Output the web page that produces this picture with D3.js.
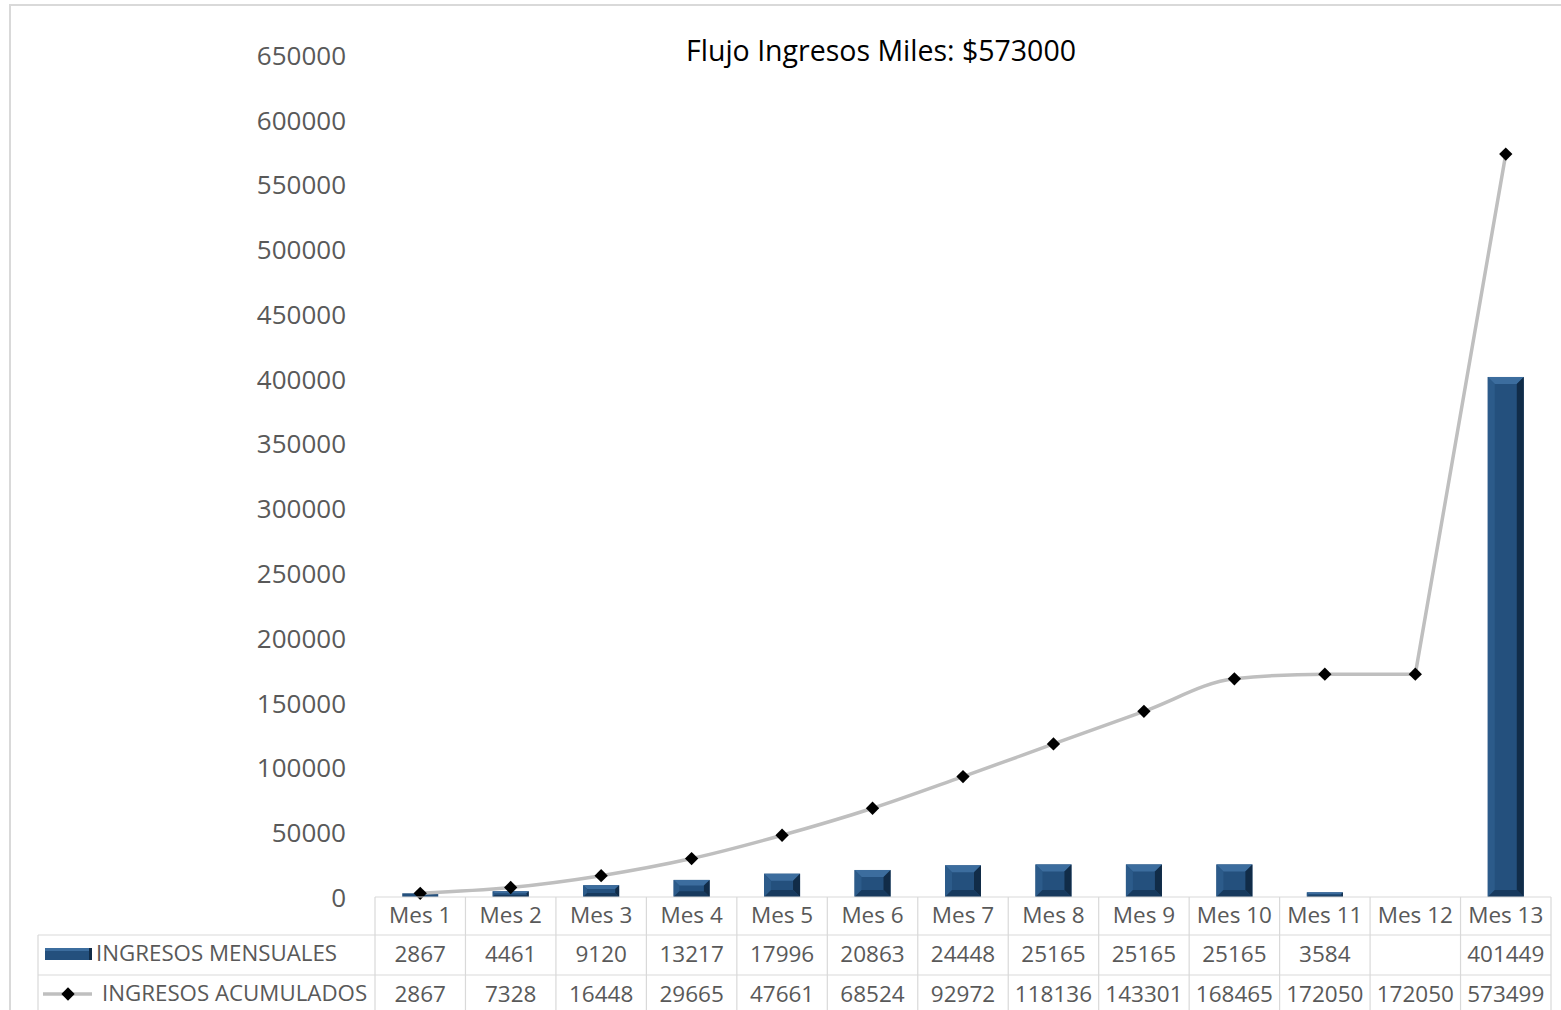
<!DOCTYPE html>
<html>
<head>
<meta charset="utf-8">
<script src="https://cdn.jsdelivr.net/npm/d3@7"></script>
<style>
  html, body { margin: 0; padding: 0; background: #fff; }
  svg { display: block; font-family: "Open Sans", sans-serif; }
</style>
</head>
<body>
<div id="chart"></div>
<script>
// datos del grafico
var meses = ["Mes 1", "Mes 2", "Mes 3", "Mes 4", "Mes 5", "Mes 6", "Mes 7",
             "Mes 8", "Mes 9", "Mes 10", "Mes 11", "Mes 12", "Mes 13"];
var mensuales = [2867, 4461, 9120, 13217, 17996, 20863, 24448, 25165, 25165, 25165, 3584, null, 401449];
var acumulados = [2867, 7328, 16448, 29665, 47661, 68524, 92972, 118136, 143301, 168465, 172050, 172050, 573499];
var yTicks = [0, 50000, 100000, 150000, 200000, 250000, 300000, 350000, 400000, 450000, 500000, 550000, 600000, 650000];
var titulo = "Flujo Ingresos Miles: $573000";
var serieNombres = ["INGRESOS MENSUALES", "INGRESOS ACUMULADOS"];

!function () {
    var width = 1561, height = 1010;
    var pLeft = 375, pRight = 1551, pTop = 55, pBottom = 897;
    var gridColor = "#d9d9d9", textColor = "#595959";

    var svg = d3.select("#chart").append("svg")
        .attr("width", width)
        .attr("height", height);

    // borde exterior
    svg.append("rect")
        .attr("x", 10).attr("y", 5)
        .attr("width", 1600).attr("height", 1100)
        .attr("fill", "#fff")
        .attr("stroke", gridColor)
        .attr("stroke-width", 2);

    var x = d3.scaleBand().domain(meses).range([pLeft, pRight]);
    var y = d3.scaleLinear().domain([0, 650000]).range([pBottom, pTop]);

    // titulo
    svg.append("text")
        .attr("x", 881).attr("y", 61)
        .attr("text-anchor", "middle")
        .attr("font-size", "28.5px")
        .attr("fill", "#000")
        .text(titulo);

    // eje Y (solo etiquetas)
    var yAxis = svg.append("g")
        .attr("transform", "translate(346,0)")
        .call(d3.axisLeft(y).tickValues(yTicks).tickSize(0).tickPadding(0).tickFormat(d3.format("d")));
    yAxis.select(".domain").remove();
    yAxis.selectAll("text")
        .attr("font-family", "Open Sans")
        .attr("font-size", "26px")
        .attr("fill", textColor)
        .attr("dy", "0.36em");

    // barras con bisel
    var bw = 36;
    var barras = svg.append("g").attr("class", "barras");
    mensuales.forEach(function (v, i) {
        if (v == null) return;
        var x0 = x(meses[i]) + (x.bandwidth() - bw) / 2;
        var x1 = x0 + bw;
        var y0 = y(v), y1 = y(0);
        var h = y1 - y0;
        var b = Math.min(7, h / 3, bw / 4);
        var g = barras.append("g");
        g.append("rect")
            .attr("x", x0).attr("y", y0)
            .attr("width", bw).attr("height", h)
            .attr("fill", "#24507d");
        if (b < 1.5) return;
        // arriba
        g.append("polygon")
            .attr("points", [[x0, y0], [x1, y0], [x1 - b, y0 + b], [x0 + b, y0 + b]].join(" "))
            .attr("fill", "#3c6d9e");
        // izquierda
        g.append("polygon")
            .attr("points", [[x0, y0], [x0 + b, y0 + b], [x0 + b, y1 - b], [x0, y1]].join(" "))
            .attr("fill", "#2c5b8a");
        // derecha
        g.append("polygon")
            .attr("points", [[x1, y0], [x1 - b, y0 + b], [x1 - b, y1 - b], [x1, y1]].join(" "))
            .attr("fill", "#112c48");
        // abajo
        g.append("polygon")
            .attr("points", [[x0, y1], [x0 + b, y1 - b], [x1 - b, y1 - b], [x1, y1]].join(" "))
            .attr("fill", "#173a5e");
    });

    // linea acumulada: tramo suavizado + ultimo tramo recto
    var px = function (d, i) { return x(meses[i]) + x.bandwidth() / 2; };
    var puntos = acumulados.map(function (d, i) { return [px(d, i), y(d)]; });
    var n = puntos.length;

    var lineaSuave = d3.line().curve(d3.curveMonotoneX);
    var lineaRecta = d3.line();

    svg.append("path")
        .attr("d", lineaSuave(puntos.slice(0, n - 1)) + lineaRecta(puntos.slice(n - 2)).replace(/^M[^L]*/, ""))
        .attr("fill", "none")
        .attr("stroke", "#bfbfbf")
        .attr("stroke-width", 3.5)
        .attr("stroke-linejoin", "round");

    svg.append("g").selectAll("rect")
        .data(acumulados)
        .join("rect")
        .attr("x", -4.7).attr("y", -4.7)
        .attr("width", 9.4).attr("height", 9.4)
        .attr("fill", "#000")
        .attr("transform", function (d, i) {
            return "translate(" + px(d, i) + "," + y(d) + ") rotate(45)";
        });

    // tabla de datos
    var rows = [897, 935, 975, 1015];
    var tabla = svg.append("g").attr("class", "tabla")
        .attr("stroke", gridColor).attr("stroke-width", 1.2);
    tabla.append("line").attr("x1", pLeft).attr("x2", pRight).attr("y1", rows[0]).attr("y2", rows[0]);
    tabla.append("line").attr("x1", 38).attr("x2", pRight).attr("y1", rows[1]).attr("y2", rows[1]);
    tabla.append("line").attr("x1", 38).attr("x2", pRight).attr("y1", rows[2]).attr("y2", rows[2]);
    tabla.append("line").attr("x1", 38).attr("x2", 38).attr("y1", rows[1]).attr("y2", rows[3]);
    meses.concat(["_fin"]).forEach(function (m, i) {
        var xx = i < meses.length ? x(m) : pRight;
        tabla.append("line").attr("x1", xx).attr("x2", xx).attr("y1", rows[0]).attr("y2", rows[3]);
    });

    var celdas = svg.append("g")
        .attr("font-size", "22.5px")
        .attr("fill", textColor)
        .attr("text-anchor", "middle");

    meses.forEach(function (m, i) {
        var cx = x(m) + x.bandwidth() / 2;
        celdas.append("text").attr("x", cx).attr("y", 923).text(m);
        if (mensuales[i] != null) {
            celdas.append("text").attr("x", cx).attr("y", 962).text(mensuales[i]);
        }
        celdas.append("text").attr("x", cx).attr("y", 1002).text(acumulados[i]);
    });

    // leyendas de la tabla
    var ley = svg.append("g").attr("font-size", "22.3px").attr("fill", textColor);
    ley.append("rect")
        .attr("x", 45).attr("y", 948).attr("width", 47).attr("height", 12)
        .attr("fill", "#24507d");
    ley.append("rect")
        .attr("x", 45).attr("y", 948).attr("width", 47).attr("height", 3)
        .attr("fill", "#3c6d9e");
    ley.append("rect")
        .attr("x", 89).attr("y", 948).attr("width", 3).attr("height", 12)
        .attr("fill", "#112c48");
    ley.append("text").attr("x", 96).attr("y", 961).text(serieNombres[0]);

    ley.append("line")
        .attr("x1", 43).attr("x2", 92).attr("y1", 994).attr("y2", 994)
        .attr("stroke", "#bfbfbf").attr("stroke-width", 3.5);
    ley.append("rect")
        .attr("x", -4.7).attr("y", -4.7).attr("width", 9.4).attr("height", 9.4)
        .attr("fill", "#000")
        .attr("transform", "translate(68,994) rotate(45)");
    ley.append("text").attr("x", 102).attr("y", 1001).text(serieNombres[1]);
}();
</script>
</body>
</html>
